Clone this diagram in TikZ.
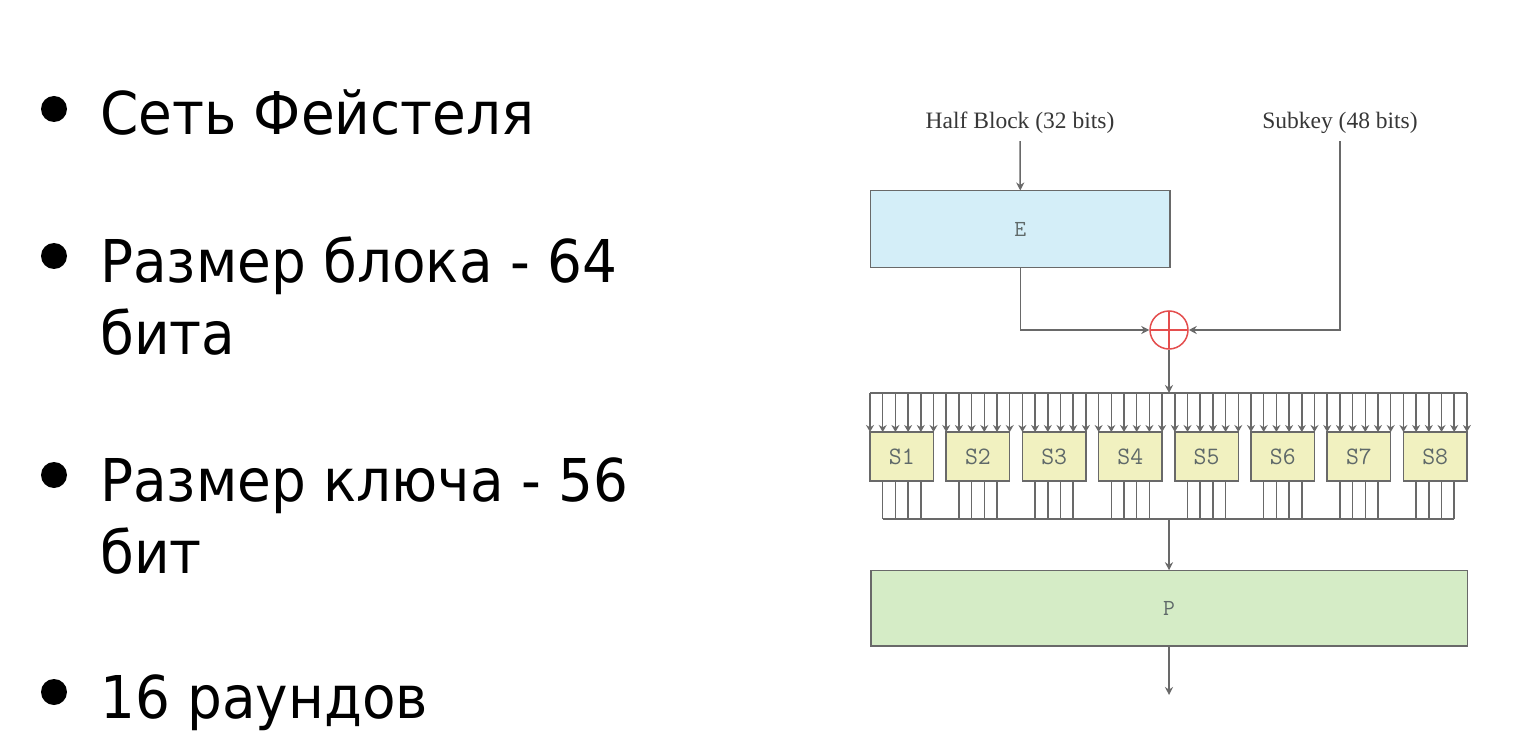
\documentclass[tikz,border=0pt]{standalone}
\usepackage{fontspec}
\setmainfont{DejaVu Sans}[FakeStretch=0.93]
\newfontfamily\serifhb{Liberation Serif}
\usetikzlibrary{arrows.meta}

\definecolor{wiregray}{RGB}{105,105,105}
\definecolor{boxtext}{RGB}{95,105,105}
\definecolor{lbltext}{RGB}{55,55,55}
\definecolor{efill}{RGB}{212,238,248}
\definecolor{sfill}{RGB}{241,241,192}
\definecolor{pfill}{RGB}{213,236,198}
\definecolor{xorred}{RGB}{228,78,78}

\tikzset{
	wire/.style={draw=wiregray, line width=1.5pt},
	arr/.style={wire, -{Stealth[length=8pt,width=8pt]}},
	pin/.style={wire, -{Stealth[length=7pt,width=8pt]}},
	box/.style={draw=wiregray, line width=1.5pt, rectangle, inner sep=0pt, outer sep=0pt, text=boxtext, font=\ttfamily\fontsize{23}{27}\selectfont},
	sbox/.style={box, fill=sfill, minimum width=63.5pt, minimum height=49pt, font=\ttfamily\fontsize{25}{29}\selectfont},
	item/.style={anchor=base west, align=left, inner sep=0pt, font=\fontsize{59}{72}\selectfont},
	dot/.style={circle, fill=black, minimum size=26pt, inner sep=0pt},
	lbl/.style={anchor=base, inner sep=0pt, text=lbltext, font=\serifhb\fontsize{23.5}{28}\selectfont},
	xorop/.style={circle, draw=xorred, line width=1.5pt, minimum size=38pt, inner sep=0pt,
		path picture={\draw[xorred, line width=1.5pt] (path picture bounding box.north) -- (path picture bounding box.south) (path picture bounding box.west) -- (path picture bounding box.east);}},
}

\begin{document}
\begin{tikzpicture}[x=1pt, y=-1pt]
	%%%%% START %%%%%
	\useasboundingbox[fill=white] (0,0) rectangle (1517,751);
	
	% bullet list (base = last line)
	\node[dot] (b1) at (54,109) {};
	\node[item] (t1) at (100,135) {Сеть Фейстеля};
	\node[dot] (b2) at (54,256) {};
	\node[item] (t2) at (100,354) {Размер блока - 64\\бита};
	\node[dot] (b3) at (54,475) {};
	\node[item] (t3) at (100,573) {Размер ключа - 56\\бит};
	\node[dot] (b4) at (54,692) {};
	\node[item] (t4) at (100,718) {16 раундов};
	
	% round function
	\node[lbl] (hb) at (1020,129) {Half Block (32 bits)};
	\node[lbl] (sk) at (1340,129) {Subkey (48 bits)};
	\node[box, fill=efill, minimum width=299.5pt, minimum height=77pt] (e) at (1020.25,229) {E};
	\node[xorop] (xor) at (1169,330) {};
	
	\draw[arr] ([yshift=-7pt]hb.south) -- (e.north);
	\draw[arr] (e.south) |- (xor.west);
	\draw[arr] ([yshift=-7pt]sk.south) |- (xor.east);
	
	% s-boxes
	\foreach \i in {1,...,8}
		\node[sbox] (s\i) at ({870+31.75+(\i-1)*76.2},456.5) {S\i};
	
	\coordinate (tin) at (1169,393);
	\coordinate (bout) at (1169,519);
	\draw[arr] (xor.south) -- (tin);
	\draw[wire] (s1.north west |- tin) -- (s8.north east |- tin);
	\foreach \i in {1,...,8}{
		\foreach \j in {0,...,5}
			\draw[pin] ([xshift=\j*12.7pt]s\i.north west |- tin) -- ([xshift=\j*12.7pt]s\i.north west);
		\foreach \j in {1,...,4}
			\draw[wire] ([xshift=\j*12.7pt]s\i.south west) -- ([xshift=\j*12.7pt]s\i.south west |- bout);
	}
	\draw[wire] ([xshift=12.7pt]s1.south west |- bout) -- ([xshift=50.8pt]s8.south west |- bout);
	
	% permutation
	\node[box, fill=pfill, minimum width=596.5pt, minimum height=75.5pt] (p) at (1169,608) {P};
	\coordinate (out) at (1169,695);
	\draw[arr] (bout) -- (p.north);
	\draw[arr] (p.south) -- (out);
	%%%%% END %%%%%
\end{tikzpicture}
\end{document}
